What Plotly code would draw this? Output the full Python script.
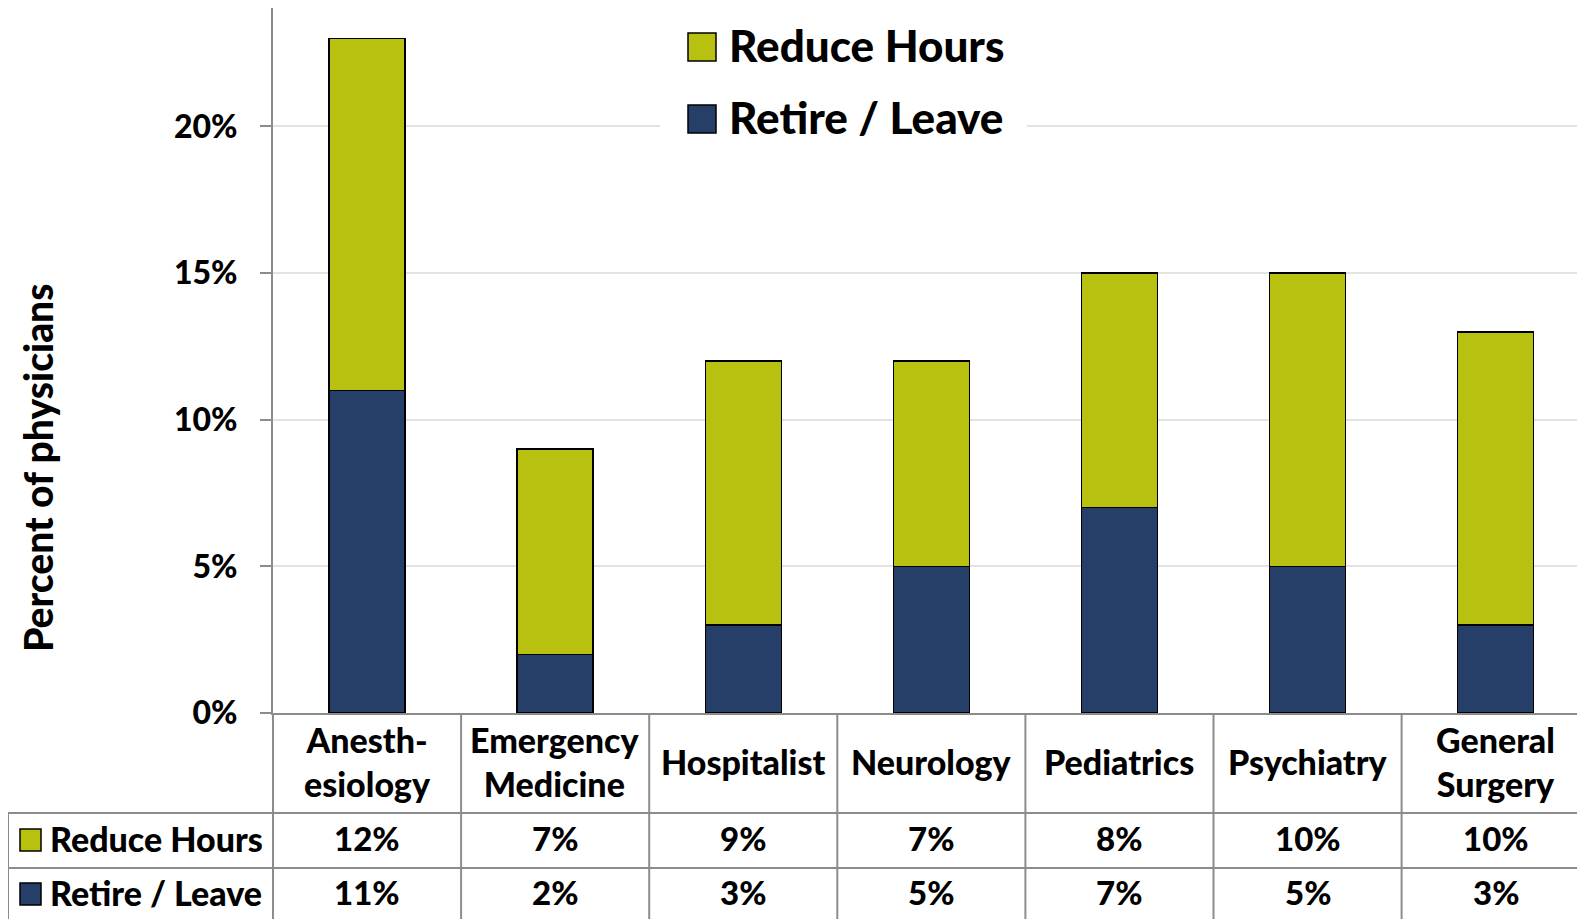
import plotly.graph_objects as go

categories = ["Anesthesiology", "Emergency Medicine", "Hospitalist", "Neurology",
              "Pediatrics", "Psychiatry", "General Surgery"]
category_labels = ["Anesth-<br>esiology", "Emergency<br>Medicine", "Hospitalist", "Neurology",
                   "Pediatrics", "Psychiatry", "General<br>Surgery"]
retire_leave = [0.11, 0.02, 0.03, 0.05, 0.07, 0.05, 0.03]
reduce_hours = [0.12, 0.07, 0.09, 0.07, 0.08, 0.10, 0.10]
series_names = ["Reduce Hours", "Retire / Leave"]
y_ticks = [0, 0.05, 0.10, 0.15, 0.20]
y_tick_labels = ["0%", "5%", "10%", "15%", "20%"]

GREEN = "#B8C10F"
NAVY = "#263F69"
GRID = "#E3E3E3"
LINE = "#8C8C8C"
FONT = "Lato"
WEIGHT = 900

OFF = 8  # page body margin
W, H = 1585 - OFF, 919 - OFF
# plot area in page pixels
L, R_EDGE, T, B = 273, 1585, 8, 713
PW, PH = R_EDGE - L, B - T


def xp(px):
    return (px - L) / PW


def yp(py):
    return (B - py) / PH


def f(size):
    return dict(family=FONT, size=size, weight=WEIGHT, color="black")


fig = go.Figure()
fig.add_trace(go.Bar(x=categories, y=retire_leave, name=series_names[1],
                     marker=dict(color=NAVY, line=dict(color="black", width=1.5)),
                     showlegend=False))
fig.add_trace(go.Bar(x=categories, y=reduce_hours, name=series_names[0],
                     marker=dict(color=GREEN, line=dict(color="black", width=1.5)),
                     showlegend=False))

shapes = []
annotations = []

# Manual legend (top)
shapes.append(dict(type="rect", xref="paper", yref="paper", x0=xp(660), x1=xp(1027),
                   y0=yp(145), y1=yp(20), fillcolor="white", line=dict(width=0), layer="above"))
for name, color, cy in [(series_names[0], GREEN, 47), (series_names[1], NAVY, 119)]:
    shapes.append(dict(type="rect", xref="paper", yref="paper", x0=xp(688), x1=xp(716),
                       y0=yp(cy + 14), y1=yp(cy - 14), fillcolor=color,
                       line=dict(color="black", width=1.5), layer="above"))
    annotations.append(dict(text=name, xref="paper", yref="paper", x=xp(727), y=yp(cy - 2),
                            xanchor="left", yanchor="middle", showarrow=False, font=f(44)))

# Table lines
for py in [813, 868]:
    shapes.append(dict(type="line", xref="paper", yref="paper", x0=xp(8), x1=1.0,
                       y0=yp(py), y1=yp(py), line=dict(color=LINE, width=2), layer="above"))
shapes.append(dict(type="line", xref="paper", yref="paper", x0=xp(8), x1=xp(8),
                   y0=yp(813), y1=yp(925), line=dict(color=LINE, width=2), layer="above"))
shapes.append(dict(type="line", xref="paper", yref="paper", x0=0, x1=0,
                   y0=0, y1=yp(925), line=dict(color=LINE, width=2), layer="above"))
for k in range(len(categories)):
    shapes.append(dict(type="line", xref="x", yref="paper", x0=k + 0.5, x1=k + 0.5,
                       y0=0, y1=yp(925), line=dict(color=LINE, width=2), layer="above"))

# Category labels
for i, lab in enumerate(category_labels):
    annotations.append(dict(text=lab, xref="x", yref="paper", x=i, y=yp(761),
                            xanchor="center", yanchor="middle", showarrow=False, font=f(34)))

# Table rows
for name, color, vals, cy in [(series_names[0], GREEN, reduce_hours, 840),
                              (series_names[1], NAVY, retire_leave, 894)]:
    shapes.append(dict(type="rect", xref="paper", yref="paper", x0=xp(20), x1=xp(41),
                       y0=yp(cy + 11), y1=yp(cy - 11), fillcolor=color,
                       line=dict(color="black", width=1.5), layer="above"))
    annotations.append(dict(text=name, xref="paper", yref="paper", x=xp(48), y=yp(cy - 2),
                            xanchor="left", yanchor="middle", showarrow=False, font=f(34)))
    for i, v in enumerate(vals):
        annotations.append(dict(text=f"{round(v * 100)}%", xref="x", yref="paper", x=i,
                                y=yp(cy - 2), xanchor="center", yanchor="middle",
                                showarrow=False, font=f(33)))

# Y axis title
annotations.append(dict(text="Percent of physicians", xref="paper", yref="paper",
                        x=xp(38), y=yp(468), textangle=-90, xanchor="center", yanchor="middle",
                        showarrow=False, font=f(39)))

fig.update_layout(
    width=W, height=H,
    margin=dict(l=L - OFF, r=0, t=T - OFF, b=H - (B - OFF), pad=0),
    paper_bgcolor="white", plot_bgcolor="white",
    barmode="stack", bargap=0.596,
    font=f(33),
    shapes=shapes, annotations=annotations,
    xaxis=dict(range=[-0.5, -0.5 + PW / 188.1], showticklabels=False, ticks="",
               showline=True, linecolor=LINE, linewidth=2, showgrid=False, zeroline=False,
               fixedrange=True),
    yaxis=dict(range=[0, 0.2404], tickvals=y_ticks, ticktext=y_tick_labels,
               ticks="outside", ticklen=11, tickcolor=LINE, tickwidth=2,
               showline=True, linecolor=LINE, linewidth=2,
               showgrid=True, gridcolor=GRID, gridwidth=2, zeroline=False,
               tickfont=f(32), ticklabelstandoff=16),
    showlegend=False,
)

fig.write_html("out.html")
